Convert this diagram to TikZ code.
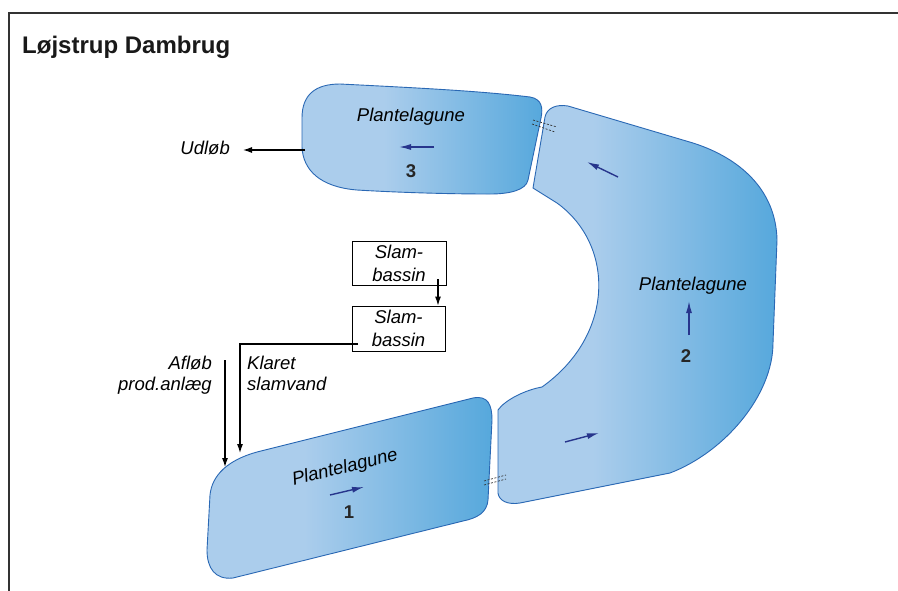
\documentclass[tikz,border=0pt]{standalone}
\usepackage{fontspec}
\setmainfont{Liberation Sans}
\usetikzlibrary{arrows.meta}
\definecolor{lagL}{HTML}{ABCDEC}
\definecolor{lagR}{HTML}{56A8DC}
\definecolor{lagE}{HTML}{2A68B4}
\definecolor{navy}{HTML}{27358C}
\definecolor{framec}{HTML}{333333}
\pgfdeclarehorizontalshading{lagoon}{100bp}{color(0bp)=(lagL); color(25bp)=(lagL); color(42bp)=(lagL); color(75bp)=(lagR); color(100bp)=(lagR)}
\begin{document}
\begin{tikzpicture}[x=1pt,y=-1pt,
  lag/.style={shading=lagoon, draw=lagE, line width=0.9pt},
  flow/.style={draw=navy, line width=1.4pt, -{Latex[length=12pt,width=6pt]}},
  blk/.style={draw=black, line width=1.1pt, -{Latex[length=9pt,width=6pt]}},
  pipe/.style={draw=black!80, line width=0.7pt, dash pattern=on 2pt off 1.6pt},
  lbl/.style={font=\fontsize{18.5}{22}\selectfont\itshape, inner sep=0pt},
  num/.style={font=\fontsize{18.5}{22}\selectfont\bfseries, text=black!85, inner sep=0pt},
  slambox/.style={draw=black, line width=0.9pt, minimum width=94pt, minimum height=44pt, align=center, inner sep=0pt, font=\fontsize{18.5}{23}\selectfont\itshape}
]
\useasboundingbox (0,0) rectangle (898,590);
\fill[white] (0,0) rectangle (898,590);
% frame
\draw[framec, line width=1.6pt] (9,591) |- (899,13);
% title
\node[anchor=base west, inner sep=0pt, font=\fontsize{24}{28}\selectfont\bfseries, text=black!90] (title) at (22,53) {Løjstrup Dambrug};

% lagoon 3
\path[lag] (340,84) .. controls (420,88) and (480,91) .. (530,97)
  .. controls (542,99) and (543,108) .. (541,118)
  -- (528,180)
  .. controls (526,190) and (510,194) .. (490,194)
  .. controls (440,194) and (390,192) .. (357,190)
  .. controls (320,187) and (303,170) .. (302,147)
  -- (302,118)
  .. controls (302,95) and (315,84) .. (340,84) -- cycle;

% lagoon 2
\path[lag] (533,188) -- (545,117)
  .. controls (547,108) and (556,104) .. (568,106)
  -- (693,143)
  .. controls (740,158) and (776,190) .. (777,240)
  -- (773,343)
  .. controls (773,395) and (725,452) .. (670,473)
  -- (585,490)
  -- (520,503)
  .. controls (508,505) and (499,501) .. (498,493)
  -- (498,410)
  .. controls (505,400) and (525,390) .. (542,387)
  .. controls (615,335) and (615,245) .. (557,203)
  -- cycle;

% lagoon 1
\path[lag] (257,452) -- (473,398)
  .. controls (488,395) and (492,405) .. (492,420)
  -- (488,500)
  .. controls (487,512) and (478,518) .. (463,521)
  -- (233,578)
  .. controls (215,580) and (207,568) .. (207,550)
  -- (210,495)
  .. controls (212,475) and (228,460) .. (257,452) -- cycle;

% pipes
\draw[pipe] (484,481) -- (506,475);
\draw[pipe] (484,485) -- (506,479);
\draw[pipe] (533,120) -- (557,127);
\draw[pipe] (532,124) -- (555,132);

% labels in lagoons
\node[lbl, anchor=base] (p3) at (411,121) {Plantelagune};
\node[num, anchor=base] (n3) at (411,177) {3};
\node[lbl, anchor=base] (p2) at (693,290) {Plantelagune};
\node[num, anchor=base] (n2) at (686,362) {2};
\node[lbl, rotate=14] (p1) at (345,468) {Plantelagune};
\node[num, anchor=base] (n1) at (349,518) {1};

% flow arrows
\coordinate (f3a) at (434,147); \coordinate (f3b) at (399,147);
\draw[flow] (f3a) -- (f3b);
\coordinate (f1a) at (330,495); \coordinate (f1b) at (364,487);
\draw[flow] (f1a) -- (f1b);
\coordinate (f2a) at (689,335); \coordinate (f2b) at (689,301);
\draw[flow] (f2a) -- (f2b);
\coordinate (f2c) at (618,177); \coordinate (f2d) at (587,162);
\draw[flow] (f2c) -- (f2d);
\coordinate (f2e) at (565,442); \coordinate (f2f) at (599,433);
\draw[flow] (f2e) -- (f2f);

% outlet
\node[lbl, anchor=base east] (udlob) at (230,154) {Udløb};
\coordinate (l3w) at (305,150);
\draw[blk] (l3w) -- ([xshift=13pt]udlob.east |- l3w);

% slam boxes
\node[slambox] (s1) at (399,263) {Slam-\\bassin};
\node[slambox, minimum width=93pt, minimum height=45pt] (s2) at (398.5,328.5) {Slam-\\bassin};
\coordinate (s1o) at (438,279);
\draw[blk] (s1o) -- (s1o |- s2.north);

% klaret slamvand
\coordinate (k0) at (358,344);
\coordinate (k1) at (240,453);
\draw[blk] (k0) -| (k1);
\node[lbl, anchor=base west] (kl1) at (247,369) {Klaret};
\node[lbl, anchor=base west] (kl2) at (247,390) {slamvand};

% afloeb
\coordinate (a0) at (225,360);
\coordinate (a1) at (225,467);
\draw[blk] (a0) -- (a1);
\node[lbl, anchor=base east] (af1) at (212,369) {Afløb};
\node[lbl, anchor=base east] (af2) at (212,390) {prod.anlæg};
\end{tikzpicture}
\end{document}
